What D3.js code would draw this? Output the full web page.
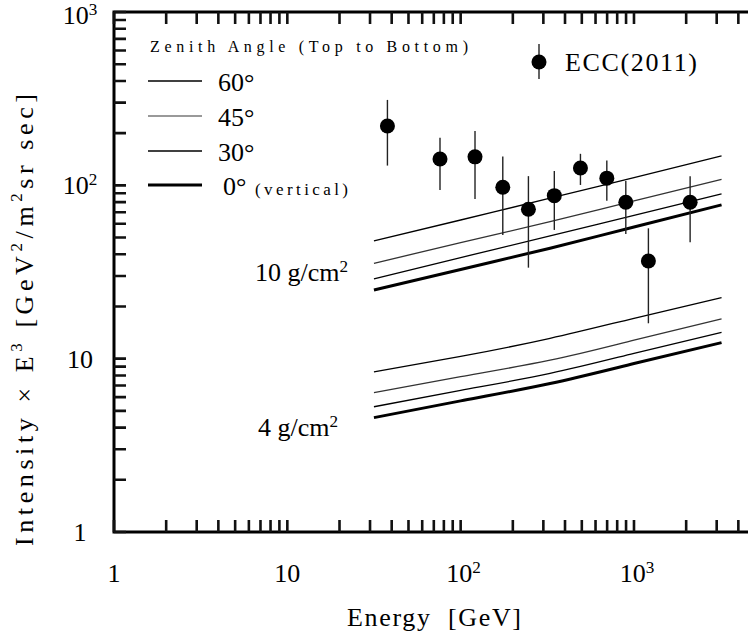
<!DOCTYPE html>
<html>
<head>
<meta charset="utf-8">
<script src="https://cdn.jsdelivr.net/npm/d3@7"></script>
<style>
  body { margin: 0; background: #fff; }
  svg { display: block; }
  svg text { font-family: "Liberation Serif", "Times New Roman", serif; fill: #000; }
</style>
</head>
<body>
<script>
// SVG area
var svgWidth = 748;
var svgHeight = 639;

// ECC (2011) points: energy, intensity x E^3 and error bar ends
var eccEnergy = [37.8, 76, 121, 175, 246, 347, 491, 697, 897, 1211, 2108];
var eccValue  = [220, 142, 146, 97.5, 72.8, 87.2, 126, 110, 79.9, 36.6, 79.9];
var eccHigh   = [311, 188, 206, 146.5, 113, 121, 152, 139, 106, 56.5, 113];
var eccLow    = [130, 94, 83.5, 51.7, 33.5, 55.3, 100.5, 81.6, 52.4, 16.0, 47];

// calculated curves, same energies for every curve
var curveEnergy = [31.6, 100, 328, 1000, 3200];
var zenithAngles = ["60", "45", "30", "0"];
// 10 g/cm2
var depth10 = {
  "60": [47.8, 63.1, 84.3, 110.9, 147.9],
  "45": [35.5, 46.7, 61.7, 81.3, 108.4],
  "30": [28.9, 38.3, 51.1, 67.0, 89.2],
  "0":  [24.9, 32.7, 43.4, 57.5, 77.1]
};
// 4 g/cm2
var depth4 = {
  "60": [8.38, 10.3, 13.1, 17.1, 22.5],
  "45": [6.37, 7.88, 9.80, 12.8, 16.95],
  "30": [5.28, 6.57, 8.22, 10.73, 14.2],
  "0":  [4.57, 5.71, 7.19, 9.37, 12.37]
};

// tick positions (decades and minors) and labels: [value, base, exponent]
var xTicks = [1, 2, 3, 4, 5, 6, 7, 8, 9,
              10, 20, 30, 40, 50, 60, 70, 80, 90,
              100, 200, 300, 400, 500, 600, 700, 800, 900,
              1000, 2000, 3000, 4000, 5000, 6000, 7000, 8000, 9000, 10000];
var yTicks = [1, 2, 3, 4, 5, 6, 7, 8, 9,
              10, 20, 30, 40, 50, 60, 70, 80, 90,
              100, 200, 300, 400, 500, 600, 700, 800, 900, 1000];
var xTickLabels = [[1, "1", ""], [10, "10", ""], [100, "10", "2"], [1000, "10", "3"]];
var yTickLabels = [[1, "1", ""], [10, "10", ""], [100, "10", "2"], [1000, "10", "3"]];

var svg = d3.select("body")
            .append("svg")
            .attr("width", svgWidth)
            .attr("height", svgHeight);

// decades are the same size on both axes
var x = d3.scaleLog().domain([1, 1e4]).range([114, 114 + 4 * 173.33]);
var y = d3.scaleLog().domain([1, 1000]).range([532, 12]);
var tickLen = 12;

// text with an optional superscript
function supText(g, px, py, base, sup, size, anchor) {
  var t = g.append("text")
           .attr("x", px)
           .attr("y", py)
           .attr("text-anchor", anchor || "start")
           .style("font-size", size + "px");
  t.append("tspan").text(base);
  if (sup) {
    t.append("tspan").attr("dy", -size * 0.36).style("font-size", (size * 0.66) + "px").text(sup);
  }
  return t;
}

// tick labels
xTickLabels.forEach(function(d) {
  supText(svg, x(d[0]) + (d[2] ? 3 : 0), 582, d[1], d[2], 26, "middle");
});
yTickLabels.forEach(function(d) {
  var py = d[0] === 1000 ? y(d[0]) + 12 : y(d[0]) + 9;
  supText(svg, 80, py, d[1], d[2], 26, "middle");
});

// axis titles
svg.append("text")
   .attr("x", 434)
   .attr("y", 626)
   .attr("text-anchor", "middle")
   .attr("textLength", 174)
   .attr("lengthAdjust", "spacing")
   .style("font-size", "26px")
   .attr("xml:space", "preserve")
   .text("Energy  [GeV]");

var yTitle = svg.append("text")
   .attr("transform", "translate(33,320) rotate(-90)")
   .attr("text-anchor", "middle")
   .attr("textLength", 452)
   .attr("lengthAdjust", "spacing")
   .style("font-size", "26px");
yTitle.append("tspan").text("Intensity \u00d7 E");
yTitle.append("tspan").attr("dy", -11).style("font-size", "17px").text("3");
yTitle.append("tspan").attr("dy", 11).text(" [GeV");
yTitle.append("tspan").attr("dy", -11).style("font-size", "17px").text("2");
yTitle.append("tspan").attr("dy", 11).text("/m");
yTitle.append("tspan").attr("dy", -11).style("font-size", "17px").text("2");
yTitle.append("tspan").attr("dy", 11).text("sr sec]");

// curves
var line = d3.line()
             .x(function(d) { return x(d[0]); })
             .y(function(d) { return y(d[1]); })
             .curve(d3.curveNatural);

function strokeFor(a) { return a === "45" ? "#333" : "#000"; }
function widthFor(a) { return a === "0" ? 3 : 1.3; }

[depth10, depth4].forEach(function(depth) {
  zenithAngles.forEach(function(a) {
    svg.append("path")
       .datum(curveEnergy.map(function(e, i) { return [e, depth[a][i]]; }))
       .attr("fill", "none")
       .attr("stroke", strokeFor(a))
       .attr("stroke-width", widthFor(a))
       .attr("d", line);
  });
});

supText(svg, 255, 281, "10 g/cm", "2", 26);
supText(svg, 258, 436, "4 g/cm", "2", 26);

// ECC points with error bars
var pts = svg.append("g");
pts.selectAll("line")
   .data(eccEnergy)
   .enter()
   .append("line")
   .attr("x1", function(d) { return x(d); })
   .attr("x2", function(d) { return x(d); })
   .attr("y1", function(d, i) { return y(eccHigh[i]); })
   .attr("y2", function(d, i) { return y(eccLow[i]); })
   .attr("stroke", "#222")
   .attr("stroke-width", 1.4);
pts.selectAll("circle")
   .data(eccEnergy)
   .enter()
   .append("circle")
   .attr("cx", function(d) { return x(d); })
   .attr("cy", function(d, i) { return y(eccValue[i]); })
   .attr("r", 7.5)
   .attr("fill", "#000");

// legend: zenith angles
svg.append("text")
   .attr("x", 150)
   .attr("y", 52)
   .attr("textLength", 318)
   .attr("lengthAdjust", "spacing")
   .style("font-size", "16px")
   .text("Zenith Angle (Top to Bottom)");

var legendY = [81, 116, 151, 185];
zenithAngles.forEach(function(a, i) {
  svg.append("line")
     .attr("x1", 148).attr("x2", 202)
     .attr("y1", legendY[i]).attr("y2", legendY[i])
     .attr("stroke", a === "45" ? "#777" : "#000")
     .attr("stroke-width", widthFor(a));
  svg.append("text")
     .attr("x", a === "0" ? 223 : 218)
     .attr("y", legendY[i] + 10)
     .style("font-size", "26px")
     .text(a + "\u00b0");
});
svg.append("text")
   .attr("x", 255)
   .attr("y", 195)
   .attr("textLength", 93)
   .attr("lengthAdjust", "spacing")
   .style("font-size", "17px")
   .text("(vertical)");

// legend: ECC
svg.append("line")
   .attr("x1", 539).attr("x2", 539)
   .attr("y1", 44).attr("y2", 79)
   .attr("stroke", "#222").attr("stroke-width", 1.4);
svg.append("circle").attr("cx", 539).attr("cy", 62).attr("r", 7.5).attr("fill", "#000");
svg.append("text")
   .attr("x", 565)
   .attr("y", 71)
   .attr("textLength", 132)
   .attr("lengthAdjust", "spacing")
   .style("font-size", "26px")
   .text("ECC(2011)");

// frame (right side falls outside the picture)
svg.append("path")
   .attr("fill", "none")
   .attr("stroke", "#000")
   .attr("stroke-width", 3)
   .attr("d", "M" + x(1e4) + "," + y(1000) + "H" + x(1) + "V" + y(1) + "H" + x(1e4));

// inward ticks on bottom, top and left
var tickPath = "";
xTicks.forEach(function(v) {
  tickPath += "M" + x(v) + "," + y(1) + "v" + (-tickLen);
  tickPath += "M" + x(v) + "," + y(1000) + "v" + tickLen;
});
yTicks.forEach(function(v) {
  tickPath += "M" + x(1) + "," + y(v) + "h" + tickLen;
});
svg.append("path")
   .attr("fill", "none")
   .attr("stroke", "#111")
   .attr("stroke-width", 2.6)
   .attr("d", tickPath);
</script>
</body>
</html>
